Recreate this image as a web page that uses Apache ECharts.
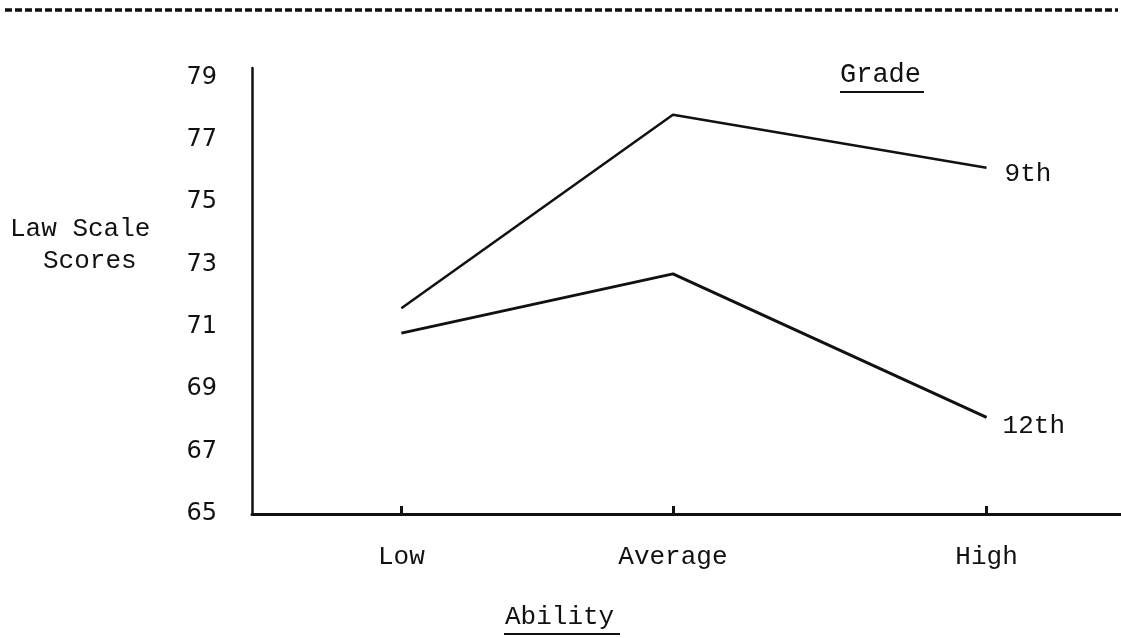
<!DOCTYPE html>
<html>
<head>
<meta charset="utf-8">
<script src="https://cdn.jsdelivr.net/npm/echarts@6/dist/echarts.min.js"></script>
<style>html,body{margin:0;padding:0;background:#fff}#c{width:1121px;height:638px}</style>
</head>
<body>
<div id="c"></div>
<script>
// Data
var abilityLevels = ['Low', 'Average', 'High'];
var abilityPositions = [1, 2, 3.155]; // placement of each ability level along the drawn axis
var grade9th = [71.6, 77.8, 76.1];
var grade12th = [70.8, 72.7, 68.1];
var yTickLabels = [65, 67, 69, 71, 73, 75, 77, 79];

var MONO = '"Liberation Mono", "DejaVu Sans Mono", monospace';
var INK = '#111';

function pairs(vals) {
  return vals.map(function (v, i) { return [abilityPositions[i], v]; });
}

var chart = echarts.init(document.getElementById('c'), null, { renderer: 'canvas' });
chart.setOption({
  backgroundColor: '#fff',
  animation: false,
  grid: { left: 252, right: 0, top: 68, bottom: 124, containLabel: false },
  xAxis: {
    type: 'value',
    min: 0.45,
    max: 3.65,
    axisLine: { show: true, lineStyle: { color: INK, width: 3 } },
    axisTick: { show: true, inside: true, length: 8, lineStyle: { color: INK, width: 3 }, customValues: abilityPositions },
    axisLabel: {
      show: true, margin: 30, color: INK, fontFamily: MONO, fontSize: 26,
      customValues: abilityPositions,
      formatter: function (v) {
        for (var i = 0; i < abilityPositions.length; i++) {
          if (Math.abs(abilityPositions[i] - v) < 1e-6) return abilityLevels[i];
        }
        return '';
      }
    },
    splitLine: { show: false }
  },
  yAxis: {
    type: 'value',
    min: 65,
    max: 79.3,
    axisLine: { show: true, lineStyle: { color: INK, width: 2.5 } },
    axisTick: { show: false },
    splitLine: { show: false },
    axisLabel: {
      show: true, margin: 35, color: INK, fontFamily: '"DejaVu Sans", sans-serif', fontSize: 24,
      customValues: yTickLabels
    }
  },
  series: [
    {
      name: '9th', type: 'line', data: pairs(grade9th), symbol: 'none',
      lineStyle: { color: INK, width: 2.5 },
      endLabel: { show: true, formatter: '{a}', color: INK, fontFamily: MONO, fontSize: 26, offset: [10, 6] }
    },
    {
      name: '12th', type: 'line', data: pairs(grade12th), symbol: 'none',
      lineStyle: { color: INK, width: 3 },
      endLabel: { show: true, formatter: '{a}', color: INK, fontFamily: MONO, fontSize: 26, offset: [8, 9] }
    }
  ],
  graphic: [
    { type: 'line', shape: { x1: 5, y1: 10, x2: 1118, y2: 10 }, style: { stroke: INK, lineWidth: 3.5, lineDash: [7, 3] } },
    { type: 'text', left: 840, top: 61, style: { text: 'Grade', font: '27px ' + MONO, fill: INK } },
    { type: 'line', shape: { x1: 840, y1: 92, x2: 924, y2: 92 }, style: { stroke: INK, lineWidth: 2 } },
    { type: 'text', left: 10, top: 216, style: { text: 'Law Scale', font: '26px ' + MONO, fill: INK } },
    { type: 'text', left: 43, top: 248, style: { text: 'Scores', font: '26px ' + MONO, fill: INK } },
    { type: 'text', left: 505, top: 604, style: { text: 'Ability', font: '26px ' + MONO, fill: INK } },
    { type: 'line', shape: { x1: 504, y1: 634, x2: 620, y2: 634 }, style: { stroke: INK, lineWidth: 2 } }
  ]
});
</script>
</body>
</html>
